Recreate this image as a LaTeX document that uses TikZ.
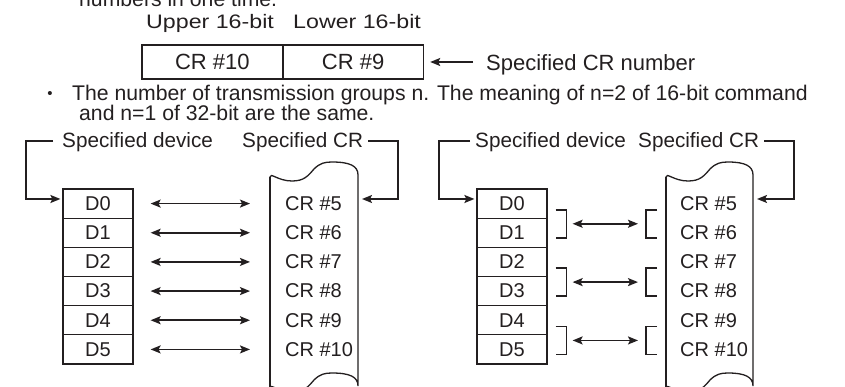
\documentclass[tikz,border=0pt]{standalone}
\usepackage{fontspec}
\setmainfont{Liberation Sans}
\usepackage{graphicx}
\usetikzlibrary{arrows.meta,calc}
\definecolor{ink}{HTML}{231F20}
\newcommand\fLab{\fontsize{20.7}{24}\selectfont}
\newcommand\fBody{\fontsize{21.2}{25}\selectfont}
\newcommand\fTop{\fontsize{19.5}{23}\selectfont}
\newcommand\fBox{\fontsize{22}{26}\selectfont}
\newcommand\fCell{\fontsize{20}{24}\selectfont}
\newcommand\scrollshape[2]{%
  \filldraw[fill=white,draw=ink,line width=1.3pt]
   (#1,177) .. controls (#1,172) and (#1+8,181) .. (#1+22,181)
   .. controls (#1+34,181) and (#1+38,176) .. (#1+44,169)
   .. controls (#1+50,163) and (#1+55,162) .. (#1+62,162)
   .. controls (#2-8,162) and (#2,166) .. (#2,175)
   -- (#2,386)
   .. controls (#2,377) and (#2-8,373) .. (#1+62,373)
   .. controls (#1+55,373) and (#1+50,374) .. (#1+44,380)
   .. controls (#1+38,387) and (#1+34,392) .. (#1+22,392)
   .. controls (#1+8,392) and (#1,383) .. (#1,388) -- cycle;
  \draw[ink,line width=2.4pt] (#1,177) -- (#1,392);}
\begin{document}
\begin{tikzpicture}[x=1pt,y=-1pt,
  txt/.style={inner sep=0pt,anchor=base west,text=ink},
  lab/.style={txt,font=\fLab},
  body/.style={txt,font=\fBody},
  toplab/.style={txt,font=\fTop},
  topcell/.style={draw=ink,line width=1.5pt,minimum width=140.7pt,minimum height=34pt,inner sep=0pt,font=\fBox,text=ink},
  dcell/.style={draw=ink,line width=1.2pt,minimum width=70pt,minimum height=29.17pt,inner sep=0pt,font=\fCell,text=ink},
  crlab/.style={inner sep=0pt,anchor=west,font=\fCell,text=ink},
  hd/.tip={Stealth[length=10pt,width=8pt,inset=2pt]},
  ln/.style={draw=ink,line width=1.6pt},
  sarr/.style={ln,-hd},
  dbl/.style={ln,hd-hd},
]
\useasboundingbox (0,0) rectangle (845,387);
\clip (0,0) rectangle (845,387);

\node[body] (t0) at (79,7) {numbers in one time.};
\node[inner sep=0pt,font=\fontsize{15}{15}\selectfont,text=ink] (bul) at (50,95) {•};
\node[body] (t1) at (72,101) {The number of transmission groups n. The meaning of n=2 of 16-bit command};
\node[body] (t2) at (79,121) {and n=1 of 32-bit are the same.};
\node[toplab] (up) at (146,29) {\scalebox{1.19}[1]{Upper 16-bit}};
\node[toplab] (lo) at (293,29) {\scalebox{1.19}[1]{Lower 16-bit}};
\node[topcell] (c10) at (212.4,62) {CR \#10};
\node[topcell] (c9) at (353.1,62) {CR \#9};
\node[txt,font=\fBox] (spec) at (486,71) {Specified CR number};
\draw[sarr] ($(spec.west |- c9.east)+(-13,0)$) -- ([xshift=6pt]c9.east);

\scrollshape{270}{358}
\scrollshape{666}{753}

\foreach \i in {0,...,5} {
  \pgfmathsetmacro\yc{189+29.1667*(\i+0.5)}
  \pgfmathtruncatemacro\n{\i+5}
  \node[dcell] (dL\i) at (98,\yc) {D\i};
  \node[crlab] (cL\i) at (285,\yc) {CR \#\n};
  \node[dcell] (dR\i) at (512,\yc) {D\i};
  \node[crlab] (cR\i) at (680,\yc) {CR \#\n};
}

% left diagram
\node[lab] (devL) at (62,148) {Specified device};
\node[lab] (crhL) at (242,148) {Specified CR};
\coordinate (sL) at (362,199);
\foreach \i in {0,...,5}
  \draw[dbl] ([xshift=17pt]dL\i.east) -- ($(cL\i.west |- dL\i.east)+(-35,0)$);
\draw[sarr] ($(devL.base west)+(-9,-7)$) -- ++(-27,0) |- ([xshift=-2pt,yshift=4.6pt]dL0.west);
\draw[sarr] ($(crhL.base east)+(5,-7)$) -- ++(30,0) |- (sL);

% right diagram
\node[lab] (devR) at (475,148) {Specified device};
\node[lab] (crhR) at (638,148) {Specified CR};
\coordinate (sR) at (757,199);
\draw[sarr] ($(devR.base west)+(-5,-7)$) -- ++(-31,0) |- ([xshift=-2pt,yshift=4.6pt]dR0.west);
\draw[sarr] ($(crhR.base east)+(5,-7)$) -- ++(30,0) |- (sR);
\foreach \a in {0,2,4} {
  \coordinate (m) at ($(dR\a.south east)+(0,5)$);
  \coordinate (n) at (cR\a.west |- m);
  \draw[ln] ($(m)+(8,-14)$) -- ($(m)+(19,-14)$) -- ($(m)+(19,14)$) -- ($(m)+(8,14)$);
  \draw[ln] ($(n)+(-23,-14)$) -- ($(n)+(-34,-14)$) -- ($(n)+(-34,14)$) -- ($(n)+(-23,14)$);
  \draw[dbl] ($(m)+(25,0)$) -- ($(n)+(-42,0)$);
}
\end{tikzpicture}
\end{document}
